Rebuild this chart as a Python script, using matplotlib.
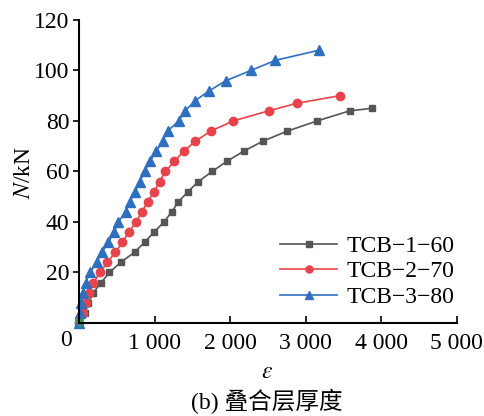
import matplotlib
matplotlib.use('Agg')
import matplotlib.pyplot as plt

plt.rcParams['font.family'] = ['Liberation Serif', 'Noto Sans CJK SC']
plt.rcParams['mathtext.fontset'] = 'stix'

# strain (x) and load N/kN (y)
x1 = [0, 80, 124, 190, 292, 403, 549, 735, 868, 992, 1125, 1226, 1315, 1443, 1580,
      1762, 1956, 2178, 2434, 2758, 3151, 3582, 3874]
y1 = [0, 4, 8, 12, 16, 20, 24, 28, 32, 36, 40, 44, 48, 52, 56,
      60, 64, 68, 72, 76, 80, 84, 85]
x2 = [0, 49, 93, 137, 190, 279, 376, 482, 575, 660, 753, 833, 907, 992, 1066,
      1142, 1262, 1385, 1541, 1744, 2041, 2510, 2882, 3449]
y2 = [0, 4, 8, 12, 16, 20, 24, 28, 32, 36, 40, 44, 48, 52, 56,
      60, 64, 68, 72, 76, 80, 84, 87, 90]
x3 = [0, 13, 27, 49, 89, 146, 235, 301, 389, 465, 522, 615, 673, 744, 801,
      872, 934, 1023, 1106, 1173, 1319, 1404, 1537, 1726, 1948, 2275, 2599, 3174]
y3 = [0, 4, 8, 12, 16, 20, 24, 28, 32, 36, 40, 44, 48, 52, 56,
      60, 64, 68, 72, 76, 80, 84, 88, 92, 96, 100, 104, 108]
names = ['TCB\u22121\u221260', 'TCB\u22122\u221270', 'TCB\u22123\u221280']
xticks = [1000, 2000, 3000, 4000, 5000]
xticklabels = ['1 000', '2 000', '3 000', '4 000', '5 000']
yticks = [20, 40, 60, 80, 100, 120]

fs = 17
fig = plt.figure(figsize=(4.85, 4.16), dpi=100)
ax = fig.add_axes([0.163, 0.2236, 0.7786, 0.7284])

ax.plot(x1, y1, color='#555555', lw=1.2, marker='s', ms=5, label=names[0], clip_on=False)
ax.plot(x2, y2, color='#e8434a', lw=1.2, marker='o', ms=6, label=names[1], clip_on=False)
ax.plot(x3, y3, color='#2e6fc0', lw=1.2, marker='^', ms=6.5, label=names[2], clip_on=False)
ax.plot([0], [0], color='#3a9a5a', marker='v', ms=6, ls='none', clip_on=False)

ax.set_xlim(0, 5000)
ax.set_ylim(0, 120)
ax.set_xticks(xticks)
ax.set_xticklabels(xticklabels)
ax.set_yticks(yticks)
ax.tick_params(axis='x', direction='in', length=5, width=1.2, labelsize=fs, pad=7)
ax.tick_params(axis='y', direction='out', length=4, width=1.2, labelsize=fs, pad=3)
for s in ['top', 'right']:
    ax.spines[s].set_visible(False)
for s in ['left', 'bottom']:
    ax.spines[s].set_linewidth(1.5)

fig.text(66 / 485, 1 - 341 / 416, '0', fontsize=fs, ha='center', va='center')
fig.text(25 / 485, 1 - 172 / 416, '$N$/kN', fontsize=fs, rotation=90, ha='center', va='center')
fig.text(267 / 485, 1 - 373 / 416, '$\\varepsilon$', fontsize=fs, ha='center', va='center')
fig.text(267 / 485, 1 - 401 / 416, '(b) 叠合层厚度', fontsize=fs, ha='center', va='center')

ax.legend(loc='lower right', bbox_to_anchor=(1.05, -0.02), frameon=False, fontsize=fs,
          handlelength=2.4, handletextpad=0.4, labelspacing=0.16, markerscale=0.85)

fig.savefig('out.png', dpi=100)
